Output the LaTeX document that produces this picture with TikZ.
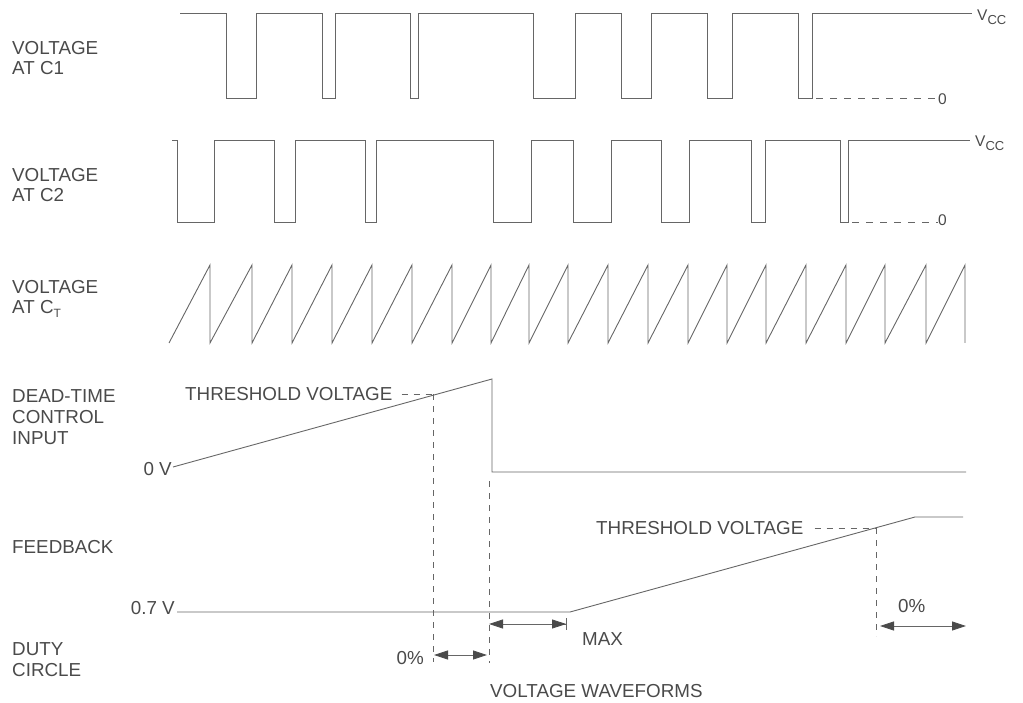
\documentclass[tikz,border=0pt]{standalone}
\usepackage{fontspec}
\setmainfont{Liberation Sans}
\usetikzlibrary{arrows.meta}
\definecolor{ink}{HTML}{4A4A4A}
\definecolor{wave}{HTML}{666666}
\tikzset{
  lbl/.style={inner sep=0pt, anchor=base west, text=ink, font=\fontsize{18.8}{20}\selectfont},
  lble/.style={lbl, anchor=base east},
  lvl/.style={inner sep=0pt, anchor=base west, text=ink, font=\fontsize{15.5}{16}\selectfont},
  sig/.style={draw=wave, line width=0.9pt, line join=miter},
  guide/.style={draw=wave, line width=0.8pt, dash pattern=on 6pt off 6pt},
  tip/.tip={Triangle[length=14pt,width=9pt,fill=ink,color=ink]},
  dim/.style={draw=wave, line width=0.8pt, tip-tip},
}
\newcommand{\vcc}{V\raisebox{-4pt}{\fontsize{13}{13}\selectfont CC}}
\begin{document}
\begin{tikzpicture}[x=1pt,y=-1pt]
\useasboundingbox (0,0) rectangle (1023,703);
% ---------- labels ----------
\node[lbl] (c1a) at (12,55) {VOLTAGE};
\node[lbl] (c1b) at (12,75) {AT C1};
\node[lbl] (c2a) at (12,182) {VOLTAGE};
\node[lbl] (c2b) at (12,202) {AT C2};
\node[lbl] (cta) at (12,294) {VOLTAGE};
\node[lbl] (ctb) at (12,314) {AT C\raisebox{-4pt}{\fontsize{12}{12}\selectfont T}};
\node[lbl] (dta) at (12,402) {DEAD-TIME};
\node[lbl] (dtb) at (12,423) {CONTROL};
\node[lbl] (dtc) at (12,444) {INPUT};
\node[lbl] (fb) at (12,553) {FEEDBACK};
\node[lbl] (dca) at (12,655) {DUTY};
\node[lbl] (dcb) at (12,676) {CIRCLE};
% ---------- C1 ----------
\draw[sig] (180,13) -- (226,13) -- (226,98) -- (256,98) -- (256,13) -- (322,13) -- (322,98) -- (335,98) -- (335,13)
  -- (410,13) -- (410,98) -- (418,98) -- (418,13) -- (533,13) -- (533,98) -- (575,98) -- (575,13)
  -- (621,13) -- (621,98) -- (651,98) -- (651,13) -- (707,13) -- (707,98) -- (732,98) -- (732,13)
  -- (798,13) -- (798,98) -- (812,98) -- (812,13) -- (972,13);
\coordinate (c1z) at (812,98);
\node[lvl] (vcc1) at (977,21) {\vcc};
\node[lvl] (zero1) at (938,105) {0};
\draw[guide, dash pattern=on 7pt off 7pt] (c1z) ++(4,0) -- (zero1.base west |- c1z);
% ---------- C2 ----------
\draw[sig] (172,140) -- (177,140) -- (177,222) -- (214,222) -- (214,140) -- (274,140) -- (274,222) -- (295,222) -- (295,140)
  -- (365,140) -- (365,222) -- (376,222) -- (376,140) -- (493,140) -- (493,222) -- (531,222) -- (531,140)
  -- (573,140) -- (573,222) -- (611,222) -- (611,140) -- (661,140) -- (661,222) -- (689,222) -- (689,140)
  -- (751,140) -- (751,222) -- (765,222) -- (765,140) -- (840,140) -- (840,222) -- (848,222) -- (848,140) -- (970,140);
\coordinate (c2z) at (848,222);
\node[lvl] (vcc2) at (975,147) {\vcc};
\node[lvl] (zero2) at (938,226) {0};
\draw[guide, dash pattern=on 7pt off 7pt] (c2z) ++(4,0) -- (zero2.base west |- c2z);
% ---------- C_T sawtooth ----------
\draw[sig] (169,343) foreach \p in {210,252,292,332,372,412,452,491,529,568,608,648,688,727,766,806,846,885,926,965} { -- (\p,265) -- (\p,343) };
% ---------- dead-time control ----------
\node[lble] (zv) at (172,475) {0 V};
\coordinate (dt0) at (173,467);
\coordinate (dtpk) at (492,379);
\coordinate (dtlo) at (492,472);
\coordinate (dtend) at (966,472);
\draw[sig] (dt0) -- (dtpk) -- (dtlo) -- (dtend);
\node[lbl] (thr1) at (185,400) {THRESHOLD VOLTAGE};
\coordinate (t1h) at (433,394);
\draw[guide] (thr1.base east) ++(9,-6) -- (t1h);
\coordinate (t1b) at (433,662);
\draw[guide] (t1h) -- (t1b);
\coordinate (d2t) at (489,481);
\coordinate (d2b) at (489,663);
\draw[guide] (d2t) -- (d2b);
% ---------- feedback ----------
\node[lble] (z7) at (175,614) {0.7 V};
\coordinate (fb0) at (177,612);
\coordinate (fb1) at (570,612);
\coordinate (fb2) at (915,517);
\coordinate (fb3) at (963,517);
\draw[sig] (fb0) -- (fb1) -- (fb2) -- (fb3);
\node[lbl] (thr2) at (596,534) {THRESHOLD VOLTAGE};
\coordinate (t2h) at (876,528);
\draw[guide] (thr2.base east) ++(11,-6) -- (t2h);
\coordinate (t2b) at (876,636);
\draw[guide] (t2h) -- (t2b);
% ---------- duty arrows ----------
\coordinate (mx0) at (489,624);
\coordinate (mx1) at (567,624);
\draw[draw=wave, line width=0.8pt, tip-{tip[] Bar[width=12pt,line width=0.9pt]}] (mx0) -- (mx1);
\node[lbl] (max) at (582,645) {MAX};
\coordinate (z0a) at (434,655);
\coordinate (z0b) at (487,655);
\draw[dim] (z0a) -- (z0b);
\node[lble] (zp1) at (424,664) {0\%};
\coordinate (z1a) at (880,626);
\coordinate (z1b) at (966,626);
\draw[dim] (z1a) -- (z1b);
\node[lbl] (zp2) at (898,612) {0\%};
% ---------- caption ----------
\node[lbl] (cap) at (490,697) {VOLTAGE WAVEFORMS};
\end{tikzpicture}
\end{document}
